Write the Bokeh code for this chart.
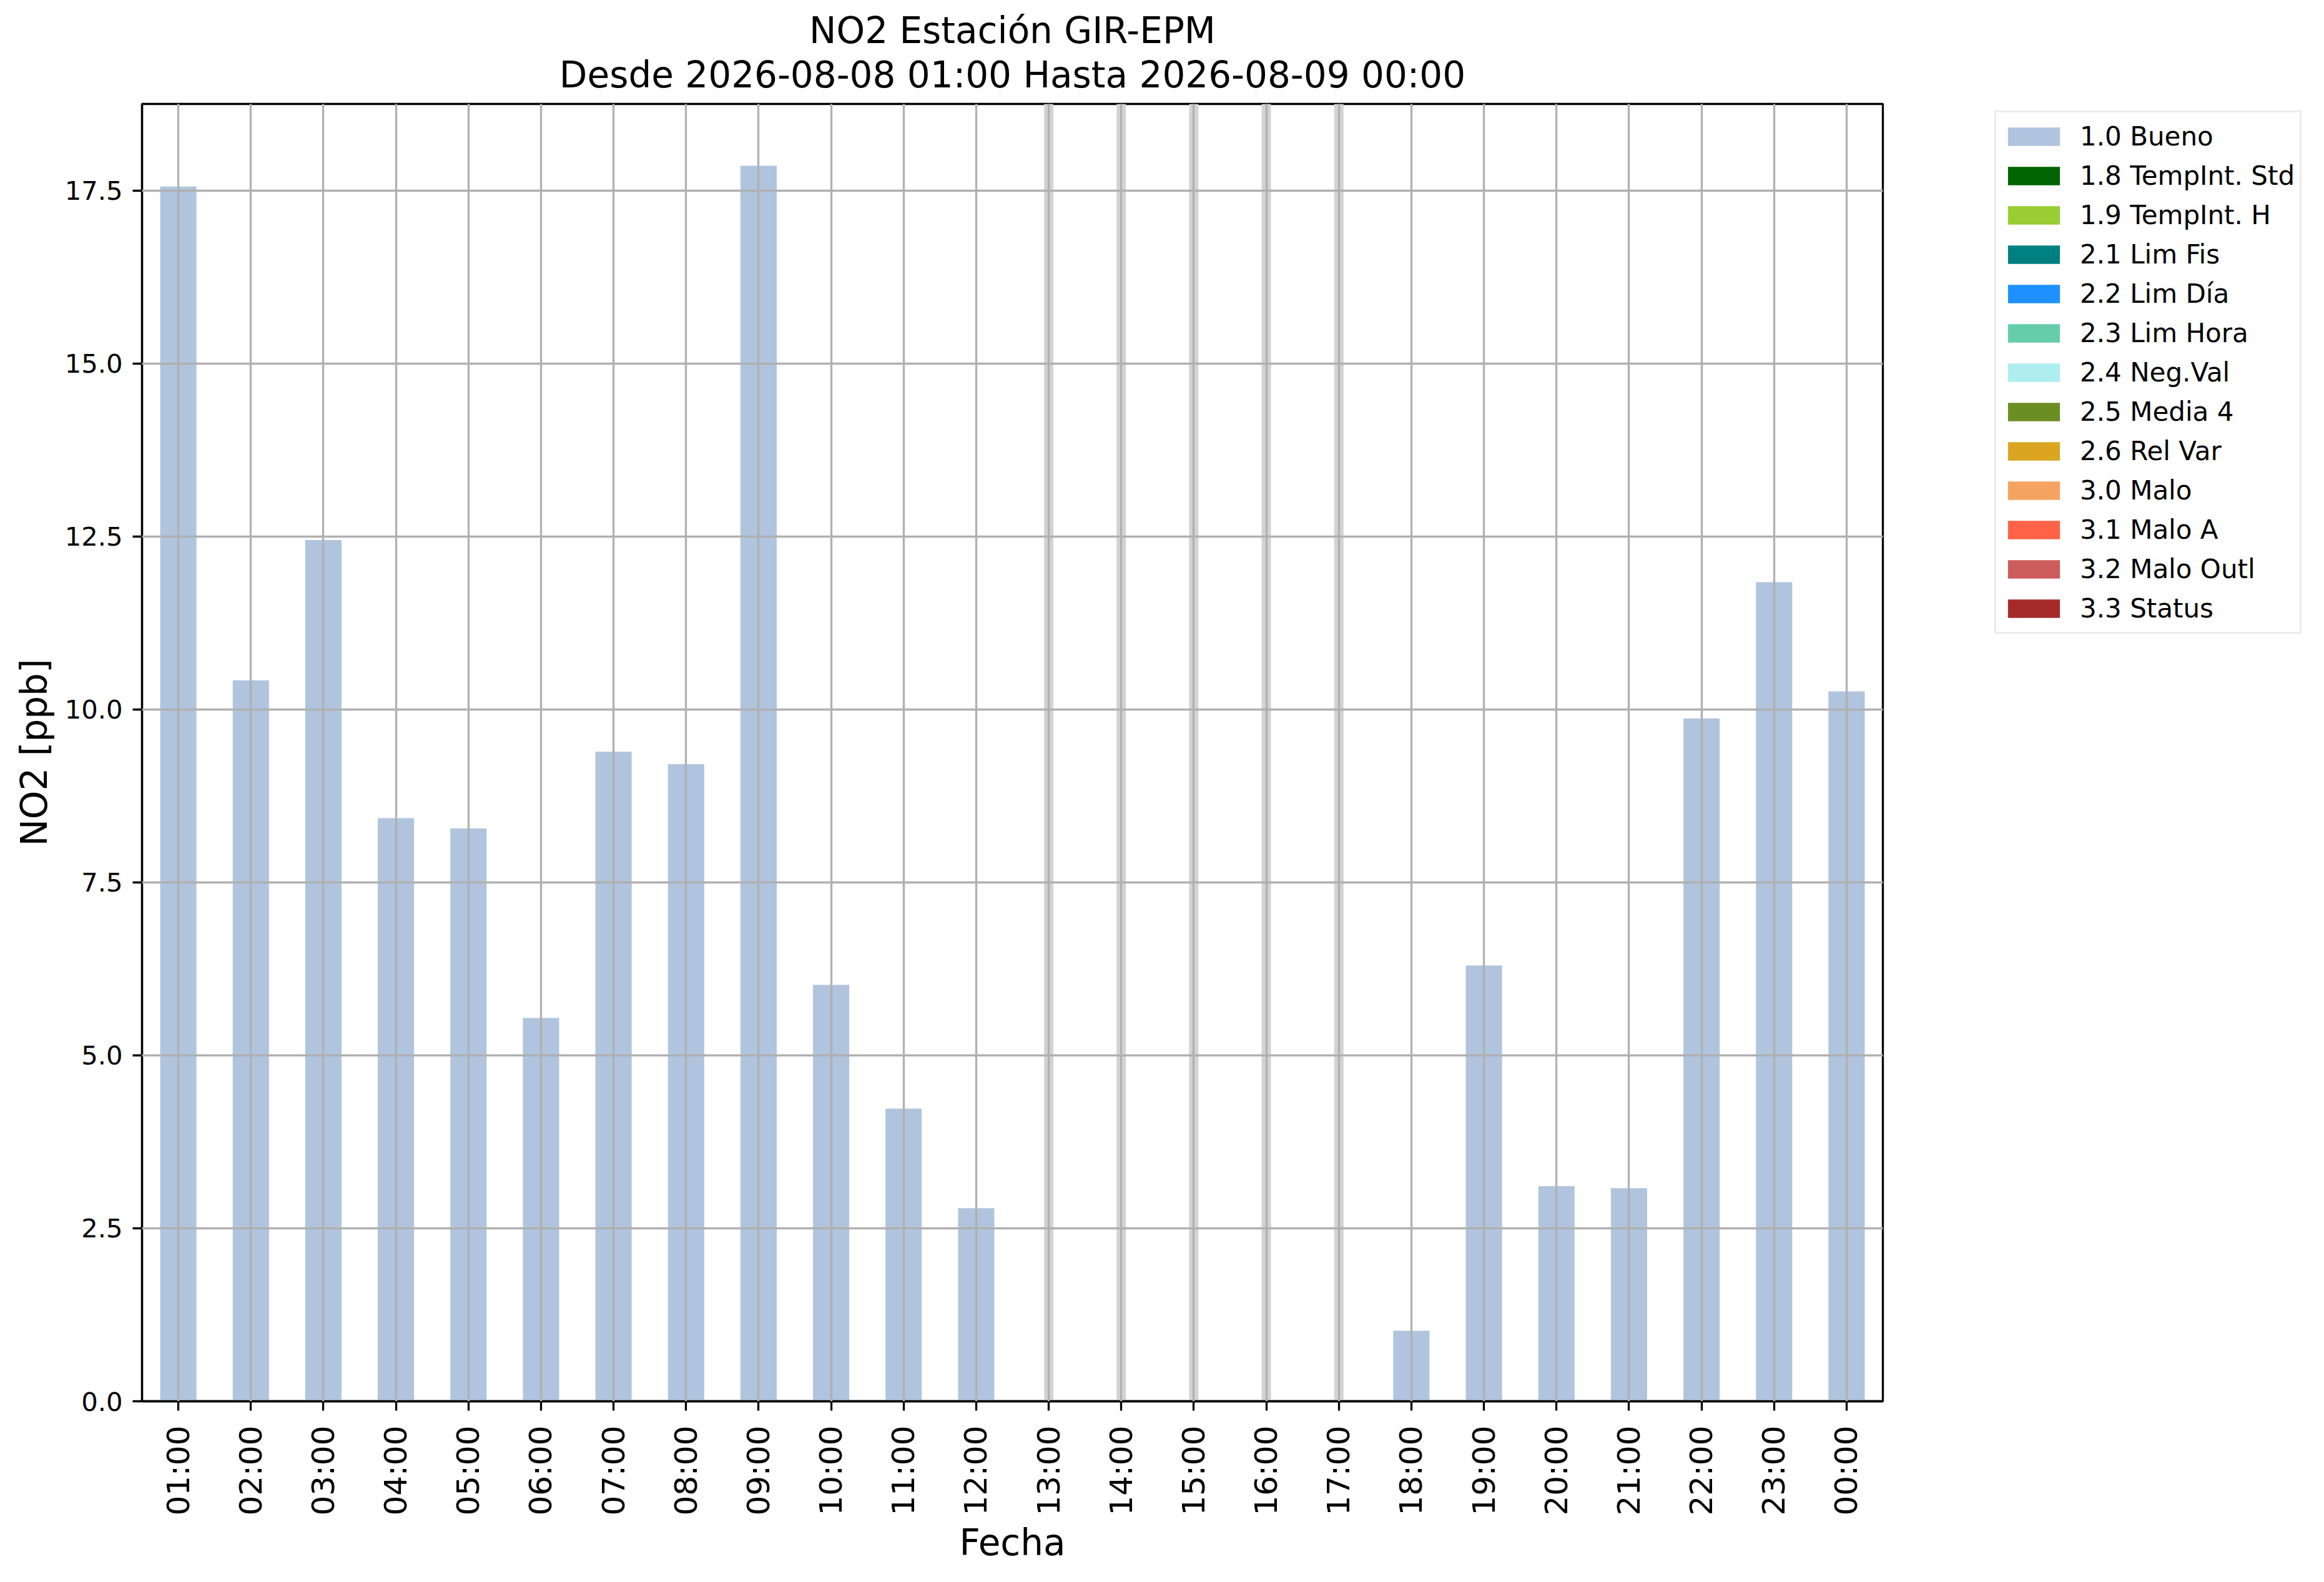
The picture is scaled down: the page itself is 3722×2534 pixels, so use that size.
import math
from bokeh.plotting import figure
from bokeh.layouts import row
from bokeh.models import Range1d, FactorRange, FixedTicker, PrintfTickFormatter, Legend, LegendItem, Title
from bokeh.embed import file_html
from bokeh.resources import INLINE

# ---- data ----
hours = ["01:00", "02:00", "03:00", "04:00", "05:00", "06:00", "07:00", "08:00",
         "09:00", "10:00", "11:00", "12:00", "13:00", "14:00", "15:00", "16:00",
         "17:00", "18:00", "19:00", "20:00", "21:00", "22:00", "23:00", "00:00"]
no2 = [17.56, 10.42, 12.45, 8.43, 8.28, 5.54, 9.39, 9.21,
       17.86, 6.02, 4.23, 2.79, None, None, None, None,
       None, 1.02, 6.30, 3.11, 3.08, 9.87, 11.84, 10.26]
y_ticks = [0.0, 2.5, 5.0, 7.5, 10.0, 12.5, 15.0, 17.5]
flag_labels = ["1.0 Bueno", "1.8 TempInt. Std", "1.9 TempInt. H", "2.1 Lim Fis",
               "2.2 Lim Día", "2.3 Lim Hora", "2.4 Neg.Val", "2.5 Media 4",
               "2.6 Rel Var", "3.0 Malo", "3.1 Malo A", "3.2 Malo Outl", "3.3 Status"]
flag_colors = ["#B0C4DE", "#006400", "#9ACD32", "#008080", "#1E90FF", "#66CDAA",
               "#AFEEEE", "#6B8E23", "#DAA520", "#F4A460", "#FF6347", "#CD5C5C", "#A52A2A"]
title1 = "NO2 Estación GIR-EPM"
title2 = "Desde 2026-08-08 01:00 Hasta 2026-08-09 00:00"

FONT = "DejaVu Sans"
present_x = [h for h, v in zip(hours, no2) if v is not None]
present_y = [v for v in no2 if v is not None]
missing_x = [h for h, v in zip(hours, no2) if v is None]
ymax = max(present_y) * 1.05

H = 2518
p = figure(width=3023, height=H, output_backend="svg", toolbar_location=None,
           x_range=FactorRange(*hours), y_range=Range1d(0, ymax),
           min_border_left=227, min_border_right=8, min_border_top=166,
           min_border_bottom=274, title=None)
p.background_fill_color = "white"
p.border_fill_color = "white"
p.outline_line_color = "black"
p.outline_line_width = 3.3

# titles (line 2 added first -> closest to frame)
t2 = Title(text=title2, align="center", text_font=FONT, text_font_size="58px",
           text_font_style="normal", text_color="black", standoff=25)
t1 = Title(text=title1, align="center", text_font=FONT, text_font_size="58px",
           text_font_style="normal", text_color="black", standoff=0)
try:
    t1.standoff = -23
except Exception:
    t1.standoff = 0
p.add_layout(t2, "above")
p.add_layout(t1, "above")

# missing-data bands
p.vbar(x=missing_x, top=[ymax] * len(missing_x), width=0.129, fill_color="#d3d3d3",
       line_color=None)

# bars (only the "1.0 Bueno" flag has values in this period)
p.vbar(x=present_x, top=present_y, width=0.5, fill_color=flag_colors[0], line_color=None)

# grid over bars
for g in (p.xgrid, p.ygrid):
    g.grid_line_color = "#b0b0b0"
    g.grid_line_width = 3.3
    g.level = "overlay"
p.ygrid.ticker = FixedTicker(ticks=y_ticks)

# axes
for ax in (p.xaxis, p.yaxis):
    ax.axis_line_color = "black"
    ax.axis_line_width = 3.3
    ax.major_tick_line_color = "black"
    ax.major_tick_line_width = 3.3
    ax.major_tick_out = 15
    ax.major_tick_in = 0
    ax.minor_tick_line_color = None
    ax.major_label_text_font = FONT
    ax.axis_label_text_font = FONT
    ax.axis_label_text_font_style = "normal"
    ax.axis_label_text_font_size = "58px"
    ax.axis_label_text_color = "black"
    ax.major_label_text_color = "black"

p.yaxis.ticker = FixedTicker(ticks=y_ticks)
p.yaxis.formatter = PrintfTickFormatter(format="%.1f")
p.yaxis.major_label_text_font_size = "41.7px"
p.yaxis.major_label_standoff = 16
p.yaxis.axis_label = "NO2 [ppb]"
p.yaxis.axis_label_standoff = 12

p.xaxis.major_label_orientation = math.pi / 2
p.xaxis.major_label_text_font_size = "50px"
p.xaxis.major_label_standoff = 24
p.xaxis.axis_label = "Fecha"
p.xaxis.axis_label_standoff = 6
p.xaxis.group_text_font_size = "0px"

# ---- legend panel (separate figure to the right) ----
lg = figure(width=683, height=H, output_backend="svg", toolbar_location=None,
            x_range=FactorRange(*hours), y_range=Range1d(0, ymax),
            x_axis_location=None, y_axis_location=None,
            min_border_left=0, min_border_right=0, min_border_top=0, min_border_bottom=0)
lg.outline_line_color = None
lg.background_fill_color = "white"
lg.border_fill_color = "white"
lg.xgrid.visible = False
lg.ygrid.visible = False
renderers = []
for c in flag_colors:
    r = lg.vbar(x=[hours[0]], top=[0], bottom=[0], width=0.5, fill_color=c, line_color=None)
    renderers.append(r)
items = [LegendItem(label=l, renderers=[r]) for l, r in zip(flag_labels, renderers)]
legend = Legend(items=items, location=(171, 1229), padding=8, spacing=3,
                label_height=60, glyph_height=37, glyph_width=104, label_standoff=22,
                label_text_font=FONT, label_text_font_size="42px", label_text_color="black",
                border_line_color="#d6d6d6", border_line_width=3.3,
                background_fill_color="white", background_fill_alpha=1.0, margin=0)
lg.add_layout(legend, "center")

layout = row(p, lg)
open("out.html", "w").write(file_html(layout, INLINE))
